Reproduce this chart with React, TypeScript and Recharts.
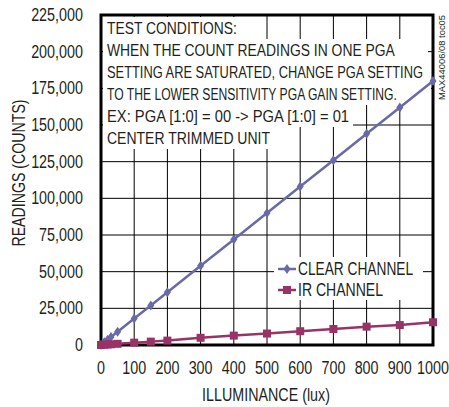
import React, { useLayoutEffect, useRef, useState } from 'react';
import { LineChart, Line, XAxis, YAxis, CartesianGrid } from 'recharts';

// valeurs
const lux = [0, 10, 20, 30, 50, 100, 150, 200, 300, 400, 500, 600, 700, 800, 900, 1000];
const clearChannel = [0, 1800, 3600, 5400, 9000, 18000, 27000, 36000, 54000, 72000, 90000, 108000, 126000, 144000, 162000, 180000];
const irChannel = [0, 200, 350, 500, 800, 1600, 2300, 3000, 4900, 6400, 7800, 9400, 10900, 12500, 13600, 15500];

const xTicks = [0, 100, 200, 300, 400, 500, 600, 700, 800, 900, 1000];
const yTicks = [0, 25000, 50000, 75000, 100000, 125000, 150000, 175000, 200000, 225000];

const noteLines = [
  'TEST CONDITIONS:',
  'WHEN THE COUNT READINGS IN ONE PGA',
  'SETTING ARE SATURATED, CHANGE PGA SETTING',
  'TO THE LOWER SENSITIVITY PGA GAIN SETTING.',
  'EX: PGA [1:0] = 00 -> PGA [1:0] = 01',
  'CENTER TRIMMED UNIT',
];
// largeur du texte et du fond blanc de chaque ligne de la note
const noteTextWidths = [130, 288, 316, 290, 242, 163];
const noteBgWidths = [137, 325, 325, 328, 250, 169];

const data = lux.map((x, i) => ({ lux: x, clear: clearChannel[i], ir: irChannel[i] }));

const FONT = '"Liberation Sans", Arial, sans-serif';
const TEXT = '#231f20';
const CLEAR_COLOR = '#6a69a8';
const IR_COLOR = '#993366';

const Diamond = (props: any) => {
  const { cx, cy } = props;
  if (cx == null || cy == null) return null;
  return (
    <polygon
      points={`${cx},${cy - 5} ${cx + 3.5},${cy} ${cx},${cy + 5} ${cx - 3.5},${cy}`}
      fill={CLEAR_COLOR}
    />
  );
};

const Square = (props: any) => {
  const { cx, cy } = props;
  if (cx == null || cy == null) return null;
  return <rect x={cx - 4} y={cy - 4} width={8} height={8} fill={IR_COLOR} />;
};

// texte compressé horizontalement pour tenir dans une largeur donnée (police étroite)
interface FitTextProps {
  x: number;
  y: number;
  width: number;
  size: number;
  anchor?: 'start' | 'middle' | 'end';
  rotate?: number;
  children: string;
}

const FitText = ({ x, y, width, size, anchor = 'start', rotate = 0, children }: FitTextProps) => {
  const ref = useRef<SVGTextElement>(null);
  const [sx, setSx] = useState(0.8);
  useLayoutEffect(() => {
    const len = ref.current?.getComputedTextLength();
    if (len) setSx(width / len);
  }, [width, children]);
  return (
    <text
      ref={ref}
      transform={`translate(${x},${y}) rotate(${rotate}) scale(${sx},1)`}
      textAnchor={anchor}
      fontSize={size}
      fontFamily={FONT}
      fill={TEXT}
    >
      {children}
    </text>
  );
};

const XTick = (props: any) => {
  const { x, payload } = props;
  return (
    <text
      transform={`translate(${x},374) scale(0.82,1)`}
      textAnchor="middle"
      fontSize={17.5}
      fontFamily={FONT}
      fill={TEXT}
    >
      {payload.value}
    </text>
  );
};

const YTick = (props: any) => {
  const { y, payload } = props;
  return (
    <text
      transform={`translate(83,${y + 6}) scale(0.82,1)`}
      textAnchor="end"
      fontSize={17.5}
      fontFamily={FONT}
      fill={TEXT}
    >
      {Number(payload.value).toLocaleString('en-US')}
    </text>
  );
};

const Decorations = () => (
  <g>
    {/* note de conditions de test */}
    {noteLines.map((t, i) => (
      <g key={t}>
        <rect x={103} y={17 + i * 22} width={noteBgWidths[i]} height={22} fill="#fff" />
        <FitText x={107} y={34 + i * 22} width={noteTextWidths[i]} size={16.3}>
          {t}
        </FitText>
      </g>
    ))}

    {/* légende */}
    <rect x={274} y={257} width={149} height={43} fill="#fff" />
    <line x1={278} x2={296} y1={269} y2={269} stroke={CLEAR_COLOR} strokeWidth={2.5} />
    <Diamond cx={287} cy={269} />
    <FitText x={298} y={275} width={115} size={17.5}>CLEAR CHANNEL</FitText>
    <line x1={278} x2={296} y1={290} y2={290} stroke={IR_COLOR} strokeWidth={2.5} />
    <Square cx={287} cy={290} />
    <FitText x={298} y={296} width={85} size={17.5}>IR CHANNEL</FitText>

    {/* cadre */}
    <rect x={101} y={15} width={332} height={330} fill="none" stroke="#000" strokeWidth={3} />

    {/* titres des axes */}
    <FitText x={266} y={401} width={128} size={18.5} anchor="middle">ILLUMINANCE (lux)</FitText>
    <FitText x={25} y={173} width={147} size={18} anchor="middle" rotate={-90}>
      READINGS (COUNTS)
    </FitText>

    <FitText x={445} y={57.5} width={85} size={9.5} anchor="middle" rotate={-90}>
      MAX44006/08 toc05
    </FitText>
  </g>
);

export default function App() {
  return (
    <div style={{ position: 'absolute', left: 0, top: 0, width: 449, height: 407, background: '#fff' }}>
      <LineChart width={449} height={407} data={data} margin={{ top: 15, right: 16, bottom: 32, left: 0 }}>
        <CartesianGrid stroke="#000" strokeWidth={1} />
        <XAxis
          dataKey="lux"
          type="number"
          domain={[0, 1000]}
          ticks={xTicks}
          height={30}
          axisLine={false}
          tickLine={false}
          tick={<XTick />}
          interval={0}
        />
        <YAxis
          type="number"
          domain={[0, 225000]}
          ticks={yTicks}
          width={101}
          axisLine={false}
          tickLine={false}
          interval={0}
          tick={<YTick />}
        />
        <Decorations />
        <Line
          dataKey="clear"
          stroke={CLEAR_COLOR}
          strokeWidth={2.5}
          dot={<Diamond />}
          activeDot={false}
          isAnimationActive={false}
        />
        <Line
          dataKey="ir"
          stroke={IR_COLOR}
          strokeWidth={2.5}
          dot={<Square />}
          activeDot={false}
          isAnimationActive={false}
        />
      </LineChart>
    </div>
  );
}
